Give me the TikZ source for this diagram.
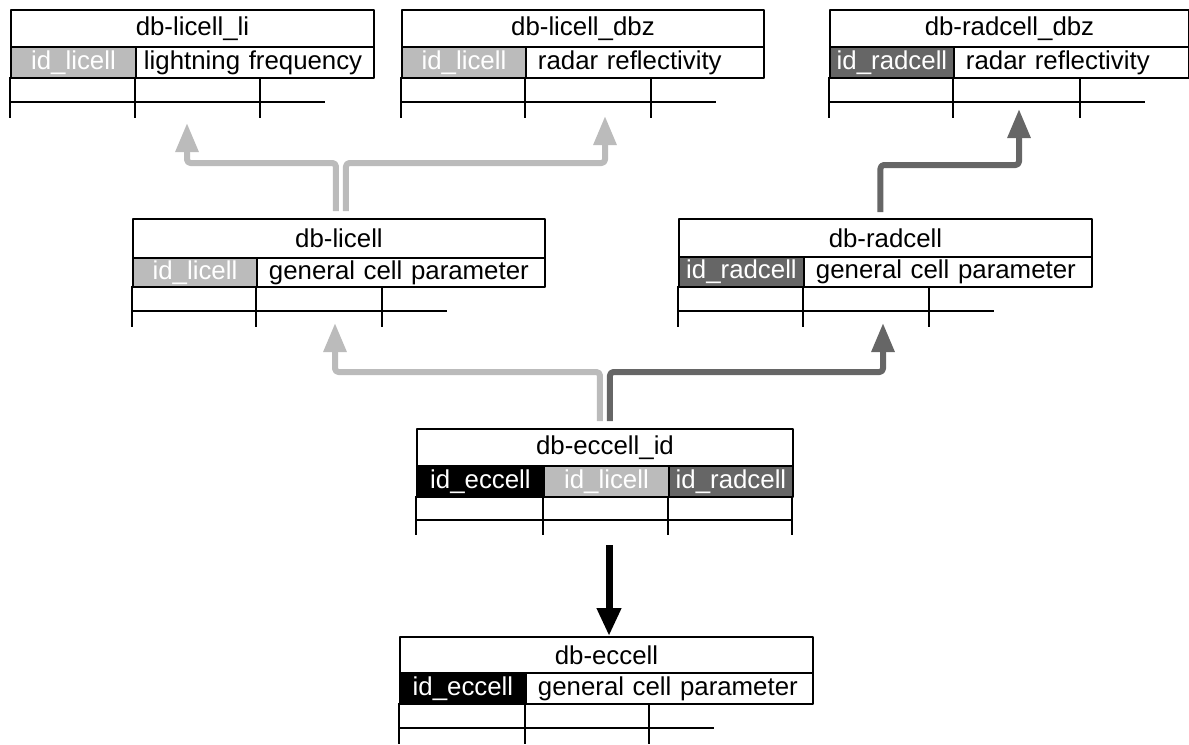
\documentclass[tikz,border=0pt]{standalone}
\usepackage{fontspec}
\setmainfont{Liberation Sans}
\usepackage{xcolor}
\usepackage{tikz}
\usetikzlibrary{arrows.meta}
\def\px{0.02cm}

\definecolor{ligrey}{HTML}{BBBBBB}
\definecolor{radgrey}{HTML}{666666}

\begin{document}
\begin{tikzpicture}[x=\px, y=-\px, line join=round]
    \tikzstyle{cell}=[draw=black, line width=1.1pt, inner sep=0pt, anchor=north west,
        font=\fontsize{14.7}{17}\selectfont]
    \tikzstyle{title cell}=[cell, fill=white]
    % field text sits left, 12px in from the key column
    \tikzstyle{field cell}=[cell, fill=white, inner xsep=12*\px, align=left]
    \tikzstyle{li key}=[cell, fill=ligrey, text=white]
    \tikzstyle{rad key}=[cell, fill=radgrey, text=white]
    \tikzstyle{ec key}=[cell, fill=black, text=white]
    \tikzstyle{grid line}=[draw=black, line width=0.6pt]
    \tikzstyle{link}=[line width=6*\px, rounded corners=2pt,
        -{Triangle[length=29*\px, width=22*\px]}]
    \tikzstyle{li link}=[link, draw=ligrey]
    \tikzstyle{rad link}=[link, draw=radgrey]
    \tikzstyle{ec link}=[link, line width=7*\px, draw=black,
        -{Triangle[length=28*\px, width=23*\px]}]

    \useasboundingbox (0,0) rectangle (1189,744);

    % top row: lightning and radar detail tables
    \node[title cell, minimum width=363*\px, minimum height=37*\px] (lili-title) at (10,9) {db-licell\_li};
    \node[li key, minimum width=125*\px, minimum height=31*\px] (lili-key) at (10,46) {id\_licell};
    \node[field cell, inner xsep=8*\px, text width=222*\px, minimum height=31*\px] (lili-field) at (135,46) {\mbox{lightning frequency}};

    \node[title cell, minimum width=362*\px, minimum height=37*\px] (lidbz-title) at (401,9) {db-licell\_dbz};
    \node[li key, minimum width=124*\px, minimum height=31*\px] (lidbz-key) at (401,46) {id\_licell};
    \node[field cell, text width=214*\px, minimum height=31*\px] (lidbz-field) at (525,46) {radar reflectivity};

    \node[title cell, minimum width=359*\px, minimum height=37*\px] (raddbz-title) at (829,9) {db-radcell\_dbz};
    \node[rad key, minimum width=124*\px, minimum height=31*\px] (raddbz-key) at (829,46) {id\_radcell};
    \node[field cell, text width=211*\px, minimum height=31*\px] (raddbz-field) at (953,46) {radar reflectivity};

    % middle row: cell tables
    \node[title cell, minimum width=412*\px, minimum height=39*\px] (lic-title) at (132,218) {db-licell};
    \node[li key, minimum width=124*\px, minimum height=29*\px] (lic-key) at (132,257) {id\_licell};
    \node[field cell, text width=264*\px, minimum height=29*\px] (lic-field) at (256,257) {general cell parameter};

    \node[title cell, minimum width=413*\px, minimum height=38*\px] (rad-title) at (678,218) {db-radcell};
    \node[rad key, minimum width=125*\px, minimum height=30*\px] (rad-key) at (678,256) {id\_radcell};
    \node[field cell, text width=264*\px, minimum height=30*\px] (rad-field) at (803,256) {general cell parameter};

    % id table
    \node[title cell, minimum width=376*\px, minimum height=37*\px] (eid-title) at (416,428) {db-eccell\_id};
    \node[ec key, minimum width=127*\px, minimum height=31*\px] (eid-ec) at (416,465) {id\_eccell};
    \node[li key, minimum width=125*\px, minimum height=31*\px] (eid-li) at (543,465) {id\_licell};
    \node[rad key, minimum width=124*\px, minimum height=31*\px] (eid-rad) at (668,465) {id\_radcell};

    % bottom: eccell table
    \node[title cell, minimum width=413*\px, minimum height=36*\px] (ec-title) at (399,636) {db-eccell};
    \node[ec key, minimum width=126*\px, minimum height=31*\px] (ec-key) at (399,672) {id\_eccell};
    \node[field cell, text width=263*\px, minimum height=31*\px] (ec-field) at (525,672) {general cell parameter};

    % open rows under each table
    \foreach \a/\b/\c/\y in {10/135/260/77, 401/525/651/77, 829/953/1080/77,
                             132/256/382/286, 678/803/929/286, 399/525/649/703} {
        \draw[grid line] (\a,\y) -- (\a,\y+41);
        \draw[grid line] (\b,\y) -- (\b,\y+41);
        \draw[grid line] (\c,\y) -- (\c,\y+41);
        \draw[grid line] (\a,\y+25) -- (\c+65,\y+25);
    }
    \foreach \x in {416,543,668,792}
        \draw[grid line] (\x,496) -- (\x,535);
    \draw[grid line] (416,520) -- (792,520);

    % arrow ends
    \coordinate (lili-in) at (187,123);
    \coordinate (lidbz-in) at (605,116);
    \coordinate (raddbz-in) at (1019,109);
    \coordinate (lic-in) at (335,323);
    \coordinate (rad-in) at (883,323);
    \coordinate (eid-out) at (609,545);

    % links between the tables
    \draw[li link] ([shift={(-3,-7)}]lic-title.north) -- ++(0,-48) -| (lili-in);
    \draw[li link] ([shift={(7,-7)}]lic-title.north) -- ++(0,-48) -| (lidbz-in);
    \draw[rad link] ([shift={(-5,-6)}]rad-title.north) -- ++(0,-47) -| (raddbz-in);
    \draw[li link] ([shift={(-5,-7)}]eid-title.north) -- ++(0,-49) -| (lic-in);
    \draw[rad link] ([shift={(5,-7)}]eid-title.north) -- ++(0,-49) -| (rad-in);
    \draw[ec link] (eid-out) -- (eid-out |- ec-title.north);

\end{tikzpicture}
\end{document}
